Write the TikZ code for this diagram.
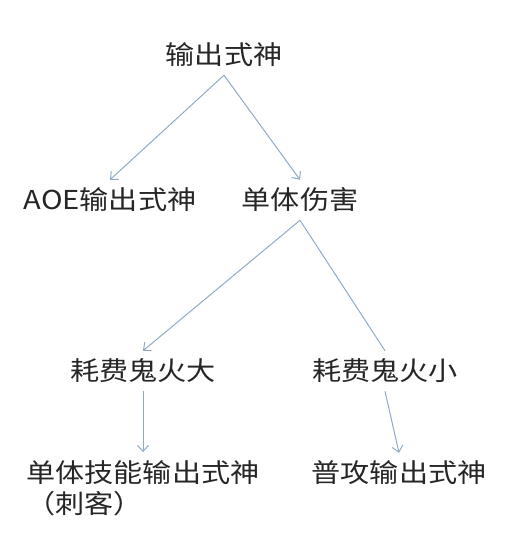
\documentclass[tikz,border=0pt]{standalone}
\usepackage{fontspec}
\setmainfont{Noto Sans CJK SC}[FakeStretch=1.12]
\usetikzlibrary{arrows.meta}
\definecolor{linkblue}{HTML}{8FAAC8}

\begin{document}
\begin{tikzpicture}[x=1pt, y=1pt,
        lbl/.style={inner sep=8pt, font=\fontsize{26}{31}\selectfont, text=black!85},
        link/.style={draw=linkblue, line width=1pt},
        arrow/.style={link, -{Straight Barb[length=6pt, width=11pt]}}]
        \useasboundingbox (0, 0) rectangle (527, -536);

        \node[lbl] (top)    at (224, -55)  {输出式神};
        \node[lbl] (aoe)    at (110, -200) {AOE输出式神};
        \node[lbl] (single) at (300, -200) {单体伤害};
        \node[lbl] (big)    at (143, -371) {耗费鬼火大};
        \node[lbl] (small)  at (385, -371) {耗费鬼火小};
        \node[lbl, align=left] (skill) at (143, -488) {单体技能输出式神\\（刺客）};
        \node[lbl] (normal) at (399, -473) {普攻输出式神};

        \foreach \a/\b in {top/aoe, top/single, single/big, big/skill, small/normal}
                \draw[arrow] (\a.south) -- (\b.north);
        \draw[link] (single.south) -- (small.north);
\end{tikzpicture}
\end{document}
